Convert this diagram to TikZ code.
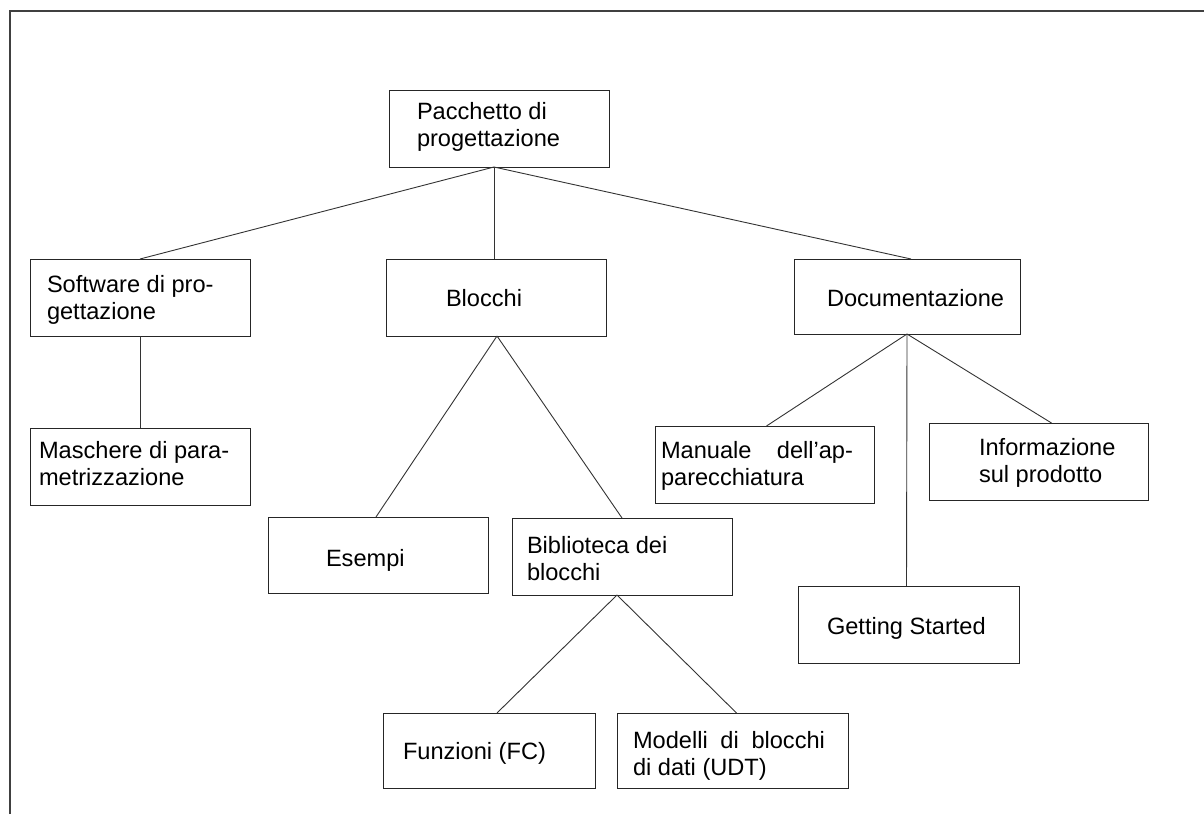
\documentclass[tikz,border=0pt]{standalone}
\usepackage{fontspec}
\setmainfont{Liberation Sans}
\begin{document}
\begin{tikzpicture}[x=1pt,y=-1pt,
  box/.style={draw=black!85, line width=1pt, inner sep=0pt, outer sep=0pt},
  txt/.style={anchor=base west, inner sep=0pt, outer sep=0pt, align=left,
    font=\fontsize{23.6}{26.5}\selectfont},
  link/.style={draw=black!80, line width=0.9pt}]
\useasboundingbox (0,0) rectangle (1204,814);

% outer frame (top and left edges only)
\draw[line width=2pt, black!75] (10,814) -- (10,11) -- (1204,11);

% boxes
\node[box, minimum width=220pt, minimum height=77pt] (pk)  at (499,128.5) {};
\node[box, minimum width=220pt, minimum height=77pt] (sw)  at (140,297.5) {};
\node[box, minimum width=220pt, minimum height=77pt] (ms)  at (140,466.5) {};
\node[box, minimum width=220pt, minimum height=77pt] (bl)  at (496,297.5) {};
\node[box, minimum width=226pt, minimum height=75pt] (dc)  at (907,296.5) {};
\node[box, minimum width=219pt, minimum height=77pt] (mn)  at (764.5,464.5) {};
\node[box, minimum width=219pt, minimum height=77pt] (inf) at (1038.5,461.5) {};
\node[box, minimum width=220pt, minimum height=76pt] (es)  at (378,555) {};
\node[box, minimum width=220pt, minimum height=77pt] (bb)  at (622,556.5) {};
\node[box, minimum width=221pt, minimum height=77pt] (gs)  at (908.5,624.5) {};
\node[box, minimum width=212pt, minimum height=75pt] (fz)  at (489,750.5) {};
\node[box, minimum width=231pt, minimum height=75pt] (md)  at (732.5,750.5) {};

% labels (for two-line labels the base anchor sits on the last line)
\node[txt] (pk-t)  at (417,146) {Pacchetto di\\progettazione};
\node[txt] (sw-t)  at (47,319)  {Software di pro-\\gettazione};
\node[txt] (ms-t)  at (39,485)  {Maschere di para-\\metrizzazione};
\node[txt] (bl-t)  at (446,306) {Blocchi};
\node[txt] (dc-t)  at (827,306) {Documentazione};
\node[txt] (mn-t)  at (661,485) {\makebox[192pt][s]{Manuale dell’ap-}\\parecchiatura};
\node[txt] (inf-t) at (979,482) {Informazione\\sul prodotto};
\node[txt] (es-t)  at (326,566) {Esempi};
\node[txt] (bb-t)  at (527,580) {Biblioteca dei\\blocchi};
\node[txt] (gs-t)  at (827,634) {Getting Started};
\node[txt] (fz-t)  at (403,759) {Funzioni (FC)};
\node[txt] (md-t)  at (633,775) {\makebox[192pt][s]{Modelli di blocchi}\\di dati (UDT)};

% connectors
\draw[link] ([xshift=-5pt]pk.south) -- (sw.north);
\draw[link] ([xshift=-5pt]pk.south) -- ([xshift=-2pt]bl.north);
\draw[link] ([xshift=-5pt]pk.south) -- ([xshift=4pt]dc.north);
\draw[link] (sw.south) -- (ms.north);
\draw[link] ([xshift=1pt]bl.south) -- ([xshift=-2pt]es.north);
\draw[link] ([xshift=1pt]bl.south) -- (bb.north);
\draw[link] ([xshift=-5pt]bb.south) -- ([xshift=8pt]fz.north);
\draw[link] ([xshift=-5pt]bb.south) -- ([xshift=4pt]md.north);
\draw[link] (dc.south) -- ([xshift=2pt]mn.north);
\draw[link] (dc.south) -- ([xshift=13pt]inf.north);
\draw[link] (dc.south) -- ([xshift=-2pt]gs.north);
\end{tikzpicture}
\end{document}
